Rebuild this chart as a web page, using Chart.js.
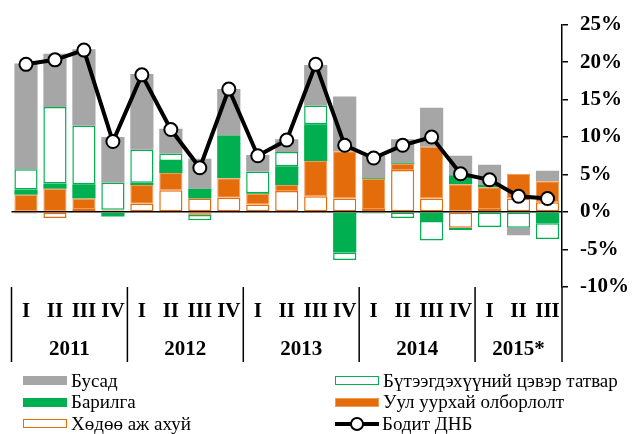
<!DOCTYPE html>
<html>
<head>
<meta charset="utf-8">
<script src="https://cdn.jsdelivr.net/npm/chart.js@4.4.1/dist/chart.umd.min.js"></script>
<style>
  body { margin: 0; background: #fff; }
  #wrap { position: relative; width: 632px; height: 434px; }
  #chart { position: absolute; left: 0; top: 0; }
  #legend { position: absolute; left: 0; top: 370px; width: 632px; height: 64px;
            font-family: 'Liberation Serif', 'Times New Roman', serif; font-size: 19px; color: #000; }
  .item { position: absolute; height: 21.5px; display: flex; align-items: center; white-space: nowrap; }
  .box { width: 44px; height: 9px; box-sizing: border-box; margin-right: 4px; }
  .ln { position: relative; width: 44px; height: 14px; margin-right: 3px; }
  .ln .bar { position: absolute; left: 0; right: 0; top: 5px; height: 4px; background: #000; }
  .ln .dot { position: absolute; left: 15px; top: 0; width: 10px; height: 10px; border: 2px solid #000;
             border-radius: 50%; background: #fff; }
</style>
</head>
<body>
<div id="wrap">
  <canvas id="chart" width="632" height="434"></canvas>
  <div id="legend"></div>
</div>
<script>
// quarters 2011 Q1 .. 2015 Q3, contributions to real GDP growth (%)
const quarters = ['I', 'II', 'III', 'IV', 'I', 'II', 'III', 'IV', 'I', 'II', 'III', 'IV',
                  'I', 'II', 'III', 'IV', 'I', 'II', 'III'];
const years = ['2011', '2012', '2013', '2014', '2015*'];
const quartersPerYear = [4, 4, 4, 4, 3];

const agriculture  = [-0.2, -0.8, 0.4, 0.2, 1.1, 2.9, 1.8, 1.9, 1.0, 2.8, 2.1, 1.8, 0.4, 5.6, 1.8, -2.1, 0.4, 1.8, 1.3];
const mining       = [2.3, 3.1, 1.4, 0.1, 2.5, 2.3, -0.4, 2.6, 1.4, 0.8, 4.7, 6.3, 4.0, 0.8, 6.9, 3.7, 2.9, 3.3, 2.8];
const construction = [0.7, 0.7, 1.9, -0.6, 0.3, 1.6, 1.3, 5.7, 0.1, 2.5, 4.9, -5.4, 0.1, 0.1, -1.2, 1.2, 0.3, 0.0, -1.5];
const netTaxes     = [2.7, 10.2, 7.8, 3.6, 4.4, 1.0, -0.7, 0.0, 2.9, 1.9, 2.5, -1.0, -0.2, -0.8, -2.6, -0.3, -2.0, -2.1, -2.1];
const other        = [14.1, 7.1, 10.2, 6.1, 10.1, 3.3, 4.0, 6.2, 2.2, 1.7, 5.4, 7.3, 3.0, 3.2, 5.2, 2.6, 2.7, -1.0, 1.4];
const realGdp      = [19.7, 20.3, 21.6, 9.4, 18.3, 11.0, 5.9, 16.4, 7.5, 9.6, 19.7, 8.9, 7.2, 8.9, 10.0, 5.1, 4.3, 2.1, 1.8];

const FONT = "'Liberation Serif', 'Times New Roman', serif";
const GREEN = '#00B050';
const ORANGE = '#E46C0A';
const GRAY = '#A6A6A6';

function barSet(label, data, fill, border, width) {
    return {
        type: 'bar', label: label, data: data, order: 1,
        backgroundColor: fill, borderColor: border, borderWidth: width,
        borderSkipped: false, barPercentage: 0.8, categoryPercentage: 1.0
    };
}

// year labels and separators under the quarter ticks
const yearGroups = {
    id: 'yearGroups',
    afterDraw(chart) {
        const {ctx, chartArea, scales: {x}} = chart;
        const half = (x.getPixelForValue(1) - x.getPixelForValue(0)) / 2;
        const top = chartArea.bottom;
        const bottom = chartArea.bottom + 75;
        ctx.save();
        ctx.strokeStyle = '#000';
        ctx.lineWidth = 1.5;
        ctx.fillStyle = '#000';
        ctx.font = 'bold 21px ' + FONT;
        ctx.textAlign = 'center';
        ctx.textBaseline = 'middle';
        let start = 0;
        years.forEach((yr, i) => {
            const end = start + quartersPerYear[i];
            const x0 = x.getPixelForValue(start) - half;
            const x1 = x.getPixelForValue(end - 1) + half;
            ctx.beginPath();
            if (i === 0) {
                ctx.moveTo(x0, top);
                ctx.lineTo(x0, bottom);
            }
            ctx.moveTo(x1, top);
            ctx.lineTo(x1, bottom);
            ctx.stroke();
            ctx.fillText(yr, (x0 + x1) / 2, top + 63);
            start = end;
        });
        ctx.restore();
    }
};

const ctx = document.getElementById('chart').getContext('2d');
const chart = new Chart(ctx, {
    data: {
        labels: quarters,
        datasets: [
            barSet('Хөдөө аж ахуй', agriculture, '#FFFFFF', ORANGE, 1.5),
            barSet('Уул уурхай олборлолт', mining, ORANGE, '#F39A55', 1),
            barSet('Барилга', construction, GREEN, GREEN, 0),
            barSet('Бүтээгдэхүүний цэвэр татвар', netTaxes, '#FFFFFF', GREEN, 1.5),
            barSet('Бусад', other, GRAY, GRAY, 0),
            {
                type: 'line', label: 'Бодит ДНБ', data: realGdp, order: 0,
                borderColor: '#000', borderWidth: 4, tension: 0,
                pointRadius: 6.5, pointBorderWidth: 2,
                pointBackgroundColor: '#FFFFFF', pointBorderColor: '#000'
            }
        ]
    },
    options: {
        responsive: false,
        animation: false,
        devicePixelRatio: 1,
        layout: { padding: { left: 11.5, right: 0, top: 20, bottom: 72 } },
        plugins: {
            legend: { display: false },
            tooltip: { enabled: false }
        },
        scales: {
            x: {
                stacked: true,
                grid: { display: false, drawTicks: false },
                border: { display: false },
                ticks: {
                    color: '#000', font: { family: FONT, size: 21, weight: 'bold' },
                    autoSkip: false, maxRotation: 0, minRotation: 0, padding: 12
                },
                afterFit: (scale) => { scale.height = 75; }
            },
            y: {
                stacked: true,
                position: 'right',
                min: -10,
                max: 25,
                z: 1,
                grid: {
                    color: (c) => (c.tick && c.tick.value === 0 ? '#000' : 'rgba(0,0,0,0)'),
                    lineWidth: 1.5,
                    tickColor: '#000',
                    tickWidth: 1.5,
                    tickLength: 6
                },
                border: { display: true, color: '#000', width: 1.5 },
                ticks: {
                    stepSize: 5,
                    padding: 12,
                    color: '#000',
                    font: { family: FONT, size: 21, weight: 'bold' },
                    callback: (v) => v + '%'
                },
                afterFit: (scale) => { scale.width = 70; }
            }
        }
    },
    plugins: [yearGroups]
});

// legend: two columns, three rows
const legendColumns = [[4, 2, 0], [3, 1, 5]];
const columnLeft = [23, 335];
const legendEl = document.getElementById('legend');
legendColumns.forEach((col, c) => {
    col.forEach((idx, r) => {
        const ds = chart.data.datasets[idx];
        const item = document.createElement('div');
        item.className = 'item';
        item.style.left = columnLeft[c] + 'px';
        item.style.top = (r * 21.5) + 'px';
        let mark;
        if (ds.type === 'line') {
            mark = document.createElement('span');
            mark.className = 'ln';
            mark.innerHTML = '<span class="bar"></span><span class="dot"></span>';
        } else {
            mark = document.createElement('span');
            mark.className = 'box';
            mark.style.background = ds.backgroundColor;
            if (ds.borderWidth > 0) {
                mark.style.border = '1.5px solid ' + ds.borderColor;
            }
        }
        const text = document.createElement('span');
        text.textContent = ds.label;
        item.appendChild(mark);
        item.appendChild(text);
        legendEl.appendChild(item);
    });
});
</script>
</body>
</html>
